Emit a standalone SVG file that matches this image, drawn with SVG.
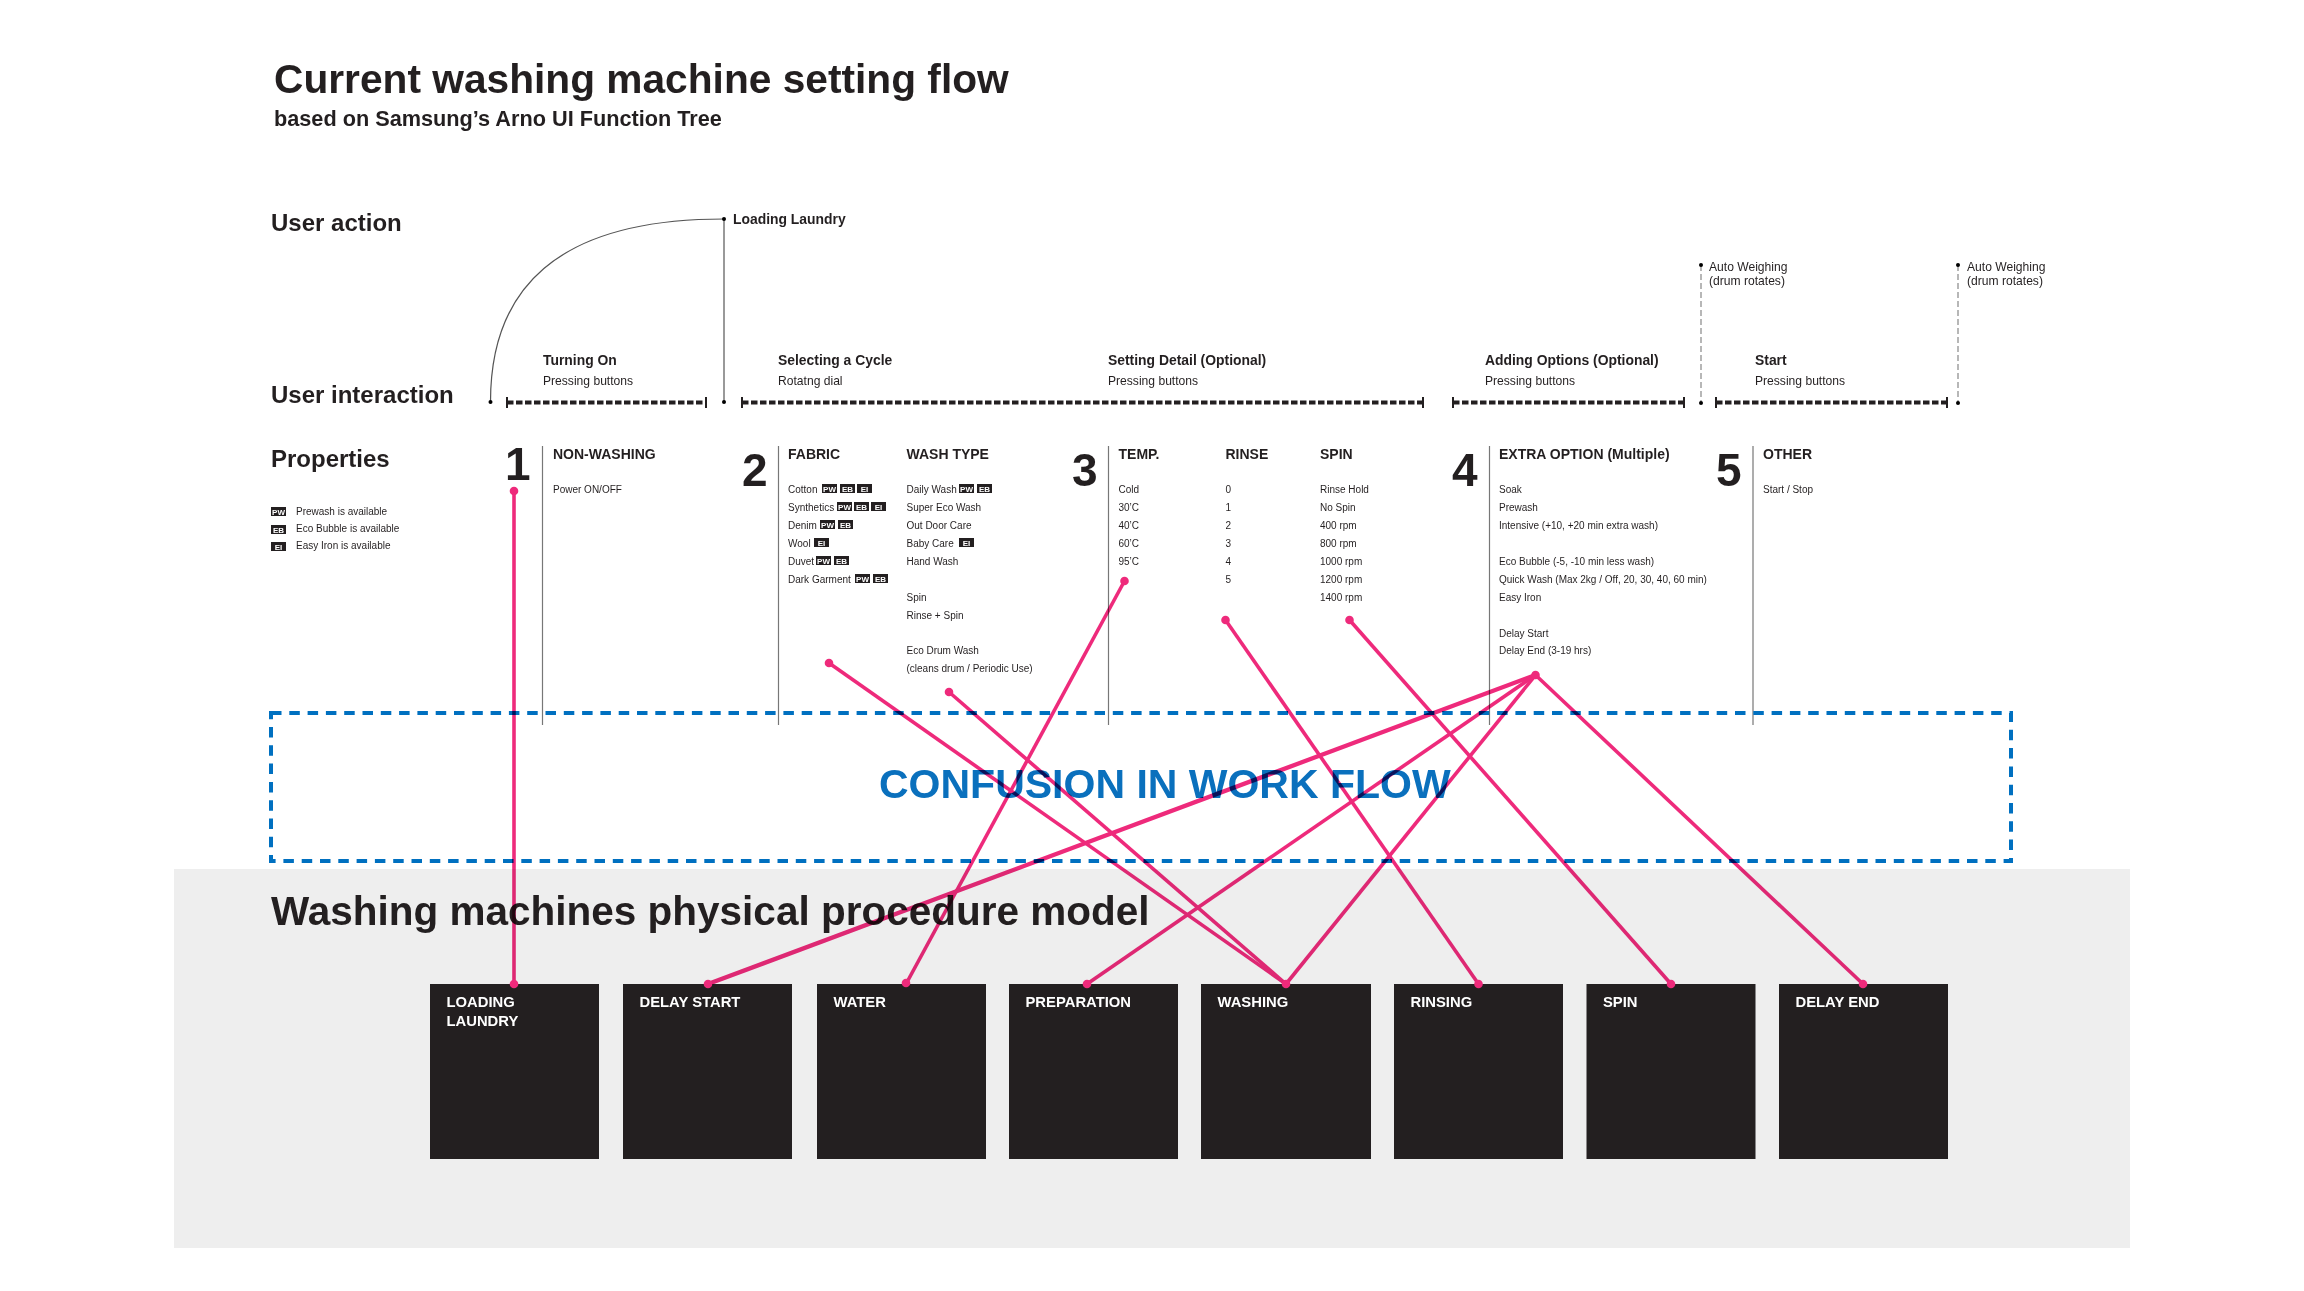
<svg xmlns="http://www.w3.org/2000/svg" width="2304" height="1291" viewBox="0 0 2304 1291">
<defs><style>
text{font-family:"Liberation Sans",Arial,sans-serif;fill:#231f20}
.b{font-weight:bold}
.t{font-size:40.7px;font-weight:bold}
.t2{font-size:40.5px;font-weight:bold}
.sub{font-size:21.7px;font-weight:bold}
.h{font-size:24px;font-weight:bold}
.il{font-size:13.9px;font-weight:bold}
.is{font-size:12.1px}
.ph{font-size:14px;font-weight:bold}
.r{font-size:10px}
.n{font-size:46px;font-weight:bold}
.bt{fill:#231f20}
.btx{font-size:8px;font-weight:bold;fill:#fff;text-anchor:middle}
.v{stroke:#777;stroke-width:1.2;fill:none}
.dash{stroke:#231f20;stroke-width:4;stroke-dasharray:6.500 2.500;fill:none}
.tick{stroke:#231f20;stroke-width:2;fill:none}
.thin{stroke:#555;stroke-width:1.2;fill:none}
.gd{stroke:#888;stroke-width:1.2;stroke-dasharray:6 3;fill:none}
.box{fill:#231f20}
.bl{font-size:14.8px;font-weight:bold;fill:#fff}
.pk{stroke:#ee2a7b;stroke-width:3.6;fill:none}
.pd{fill:#ee2a7b}
</style></defs>
<rect width="2304" height="1291" fill="#fff"/>
<rect id="procedure-bg" x="174" y="869" width="1956" height="379" fill="#eee"/>
<g id="titles">
<text class="t" x="274" y="93">Current washing machine setting flow</text>
<text class="sub" x="274" y="126">based on Samsung’s Arno UI Function Tree</text>
<text class="h" x="271" y="231">User action</text>
<text class="h" x="271" y="402.500">User interaction</text>
<text class="h" x="271" y="467">Properties</text>
<text class="t2" x="271" y="925">Washing machines physical procedure model</text>
</g>
<g id="action-lines">
<path class="thin" d="M490.500 402C490.500 290 555 219 724 219"/>
<path class="thin" d="M724 219V402"/>
<circle cx="490.500" cy="402" r="2"/><circle cx="724" cy="219" r="2"/><circle cx="724" cy="402" r="2"/>
<text class="il" x="733" y="224">Loading Laundry</text>
<path class="gd" d="M1701 265V403M1958 265V403"/>
<circle cx="1701" cy="265" r="2"/><circle cx="1701" cy="403" r="2"/><circle cx="1958" cy="265" r="2"/><circle cx="1958" cy="403" r="2"/>
<text class="is" x="1709" y="271">Auto Weighing</text><text class="is" x="1709" y="285">(drum rotates)</text>
<text class="is" x="1967" y="271">Auto Weighing</text><text class="is" x="1967" y="285">(drum rotates)</text>
</g>
<g id="interactions">
<path class="dash" d="M507 402.500H706M742 402.500H1423M1453 402.500H1684M1716 402.500H1947"/>
<path class="tick" d="M507 397V408M706 397V408M742 397V408M1423 397V408M1453 397V408M1684 397V408M1716 397V408M1947 397V408"/>
<text class="il" x="543" y="365">Turning On</text><text class="is" x="543" y="385">Pressing buttons</text>
<text class="il" x="778" y="365">Selecting a Cycle</text><text class="is" x="778" y="385">Rotatng dial</text>
<text class="il" x="1108" y="365">Setting Detail (Optional)</text><text class="is" x="1108" y="385">Pressing buttons</text>
<text class="il" x="1485" y="365">Adding Options (Optional)</text><text class="is" x="1485" y="385">Pressing buttons</text>
<text class="il" x="1755" y="365">Start</text><text class="is" x="1755" y="385">Pressing buttons</text>
</g>
<g id="legend">
<rect class="bt" x="271" y="507" width="15" height="9"/><text class="btx" x="278.500" y="514.500">PW</text><text class="r" x="296" y="515">Prewash is available</text>
<rect class="bt" x="271" y="525" width="15" height="9"/><text class="btx" x="278.500" y="532.500">EB</text><text class="r" x="296" y="532">Eco Bubble is available</text>
<rect class="bt" x="271" y="542" width="15" height="9"/><text class="btx" x="278.500" y="549.500">EI</text><text class="r" x="296" y="549">Easy Iron is available</text>
</g>
<g id="properties-1">
<text class="n" x="505" y="480">1</text>
<path class="v" d="M542.500 446V725"/>
<text class="ph" x="553" y="458.500">NON-WASHING</text>
<text class="r" x="553" y="493">Power  ON/OFF</text>
</g>
<g id="properties-2">
<text class="n" x="742" y="486">2</text>
<path class="v" d="M778.500 446V725"/>
<text class="ph" x="788" y="458.500">FABRIC</text>
<text class="r" x="788" y="493">Cotton</text>
<text class="r" x="788" y="511">Synthetics</text>
<text class="r" x="788" y="529">Denim</text>
<text class="r" x="788" y="547">Wool</text>
<text class="r" x="788" y="565">Duvet</text>
<text class="r" x="788" y="583">Dark Garment</text>
<g>
<rect class="bt" x="822" y="484" width="15" height="9"/><text class="btx" x="829.500" y="491.500">PW</text>
<rect class="bt" x="840" y="484" width="15" height="9"/><text class="btx" x="847.500" y="491.500">EB</text>
<rect class="bt" x="857" y="484" width="15" height="9"/><text class="btx" x="864.500" y="491.500">EI</text>
<rect class="bt" x="837" y="502" width="15" height="9"/><text class="btx" x="844.500" y="509.500">PW</text>
<rect class="bt" x="854" y="502" width="15" height="9"/><text class="btx" x="861.500" y="509.500">EB</text>
<rect class="bt" x="871" y="502" width="15" height="9"/><text class="btx" x="878.500" y="509.500">EI</text>
<rect class="bt" x="820" y="520" width="15" height="9"/><text class="btx" x="827.500" y="527.500">PW</text>
<rect class="bt" x="838" y="520" width="15" height="9"/><text class="btx" x="845.500" y="527.500">EB</text>
<rect class="bt" x="814" y="538" width="15" height="9"/><text class="btx" x="821.500" y="545.500">EI</text>
<rect class="bt" x="816" y="556" width="15" height="9"/><text class="btx" x="823.500" y="563.500">PW</text>
<rect class="bt" x="834" y="556" width="15" height="9"/><text class="btx" x="841.500" y="563.500">EB</text>
<rect class="bt" x="855" y="574" width="15" height="9"/><text class="btx" x="862.500" y="581.500">PW</text>
<rect class="bt" x="873" y="574" width="15" height="9"/><text class="btx" x="880.500" y="581.500">EB</text>
</g>
<text class="ph" x="906.500" y="458.500">WASH TYPE</text>
<text class="r" x="906.500" y="493">Daily Wash</text>
<text class="r" x="906.500" y="511">Super Eco Wash</text>
<text class="r" x="906.500" y="529">Out Door Care</text>
<text class="r" x="906.500" y="547">Baby Care</text>
<text class="r" x="906.500" y="565">Hand Wash</text>
<text class="r" x="906.500" y="601">Spin</text>
<text class="r" x="906.500" y="619">Rinse + Spin</text>
<text class="r" x="906.500" y="654">Eco Drum Wash</text>
<text class="r" x="906.500" y="672">(cleans drum / Periodic Use)</text>
<rect class="bt" x="959" y="484" width="15" height="9"/><text class="btx" x="966.500" y="491.500">PW</text>
<rect class="bt" x="977" y="484" width="15" height="9"/><text class="btx" x="984.500" y="491.500">EB</text>
<rect class="bt" x="959" y="538" width="15" height="9"/><text class="btx" x="966.500" y="545.500">EI</text>
</g>
<g id="properties-3">
<text class="n" x="1072" y="486">3</text>
<path class="v" d="M1108.500 446V725"/>
<text class="ph" x="1118.500" y="458.500">TEMP.</text>
<text class="r" x="1118.500" y="493">Cold</text>
<text class="r" x="1118.500" y="511">30’C</text>
<text class="r" x="1118.500" y="529">40’C</text>
<text class="r" x="1118.500" y="547">60’C</text>
<text class="r" x="1118.500" y="565">95’C</text>
<text class="ph" x="1225.500" y="458.500">RINSE</text>
<text class="r" x="1225.500" y="493">0</text>
<text class="r" x="1225.500" y="511">1</text>
<text class="r" x="1225.500" y="529">2</text>
<text class="r" x="1225.500" y="547">3</text>
<text class="r" x="1225.500" y="565">4</text>
<text class="r" x="1225.500" y="583">5</text>
<text class="ph" x="1320" y="458.500">SPIN</text>
<text class="r" x="1320" y="493">Rinse Hold</text>
<text class="r" x="1320" y="511">No Spin</text>
<text class="r" x="1320" y="529">400 rpm</text>
<text class="r" x="1320" y="547">800 rpm</text>
<text class="r" x="1320" y="565">1000 rpm</text>
<text class="r" x="1320" y="583">1200 rpm</text>
<text class="r" x="1320" y="601">1400 rpm</text>
</g>
<g id="properties-4">
<text class="n" x="1452" y="486">4</text>
<path class="v" d="M1489.500 446V725"/>
<text class="ph" x="1499" y="458.500">EXTRA OPTION (Multiple)</text>
<text class="r" x="1499" y="493">Soak</text>
<text class="r" x="1499" y="511">Prewash</text>
<text class="r" x="1499" y="529">Intensive (+10, +20 min extra wash)</text>
<text class="r" x="1499" y="565">Eco Bubble (-5, -10 min less wash)</text>
<text class="r" x="1499" y="583">Quick Wash (Max 2kg / Off, 20, 30, 40, 60 min)</text>
<text class="r" x="1499" y="601">Easy Iron</text>
<text class="r" x="1499" y="637">Delay Start</text>
<text class="r" x="1499" y="654">Delay End (3-19 hrs)</text>
</g>
<g id="properties-5">
<text class="n" x="1716" y="486">5</text>
<path class="v" style="stroke:#999;stroke-width:1.6" d="M1753 446V725"/>
<text class="ph" x="1763" y="458.500">OTHER</text>
<text class="r" x="1763" y="493">Start / Stop</text>
</g>
<g id="confusion">
<rect x="271" y="713" width="1740" height="148" fill="none" stroke="#0070c0" stroke-width="4" stroke-dasharray="10.500 7.800"/>
<text x="879" y="798" font-size="41" class="b" style="fill:#0a70bd">CONFUSION IN WORK FLOW</text>
</g>
<g id="node-loading"><rect class="box" x="430" y="984" width="169" height="175"/><text class="bl" x="446.500" y="1007">LOADING</text><text class="bl" x="446.500" y="1026">LAUNDRY</text></g>
<g id="node-delay-start"><rect class="box" x="623" y="984" width="169" height="175"/><text class="bl" x="639.500" y="1007">DELAY START</text></g>
<g id="node-water"><rect class="box" x="817" y="984" width="169" height="175"/><text class="bl" x="833.500" y="1007">WATER</text></g>
<g id="node-preparation"><rect class="box" x="1009" y="984" width="169" height="175"/><text class="bl" x="1025.500" y="1007">PREPARATION</text></g>
<g id="node-washing"><rect class="box" x="1201" y="984" width="170" height="175"/><text class="bl" x="1217.500" y="1007">WASHING</text></g>
<g id="node-rinsing"><rect class="box" x="1394" y="984" width="169" height="175"/><text class="bl" x="1410.500" y="1007">RINSING</text></g>
<g id="node-spin"><rect class="box" x="1586.500" y="984" width="169" height="175"/><text class="bl" x="1603" y="1007">SPIN</text></g>
<g id="node-delay-end"><rect class="box" x="1779" y="984" width="169" height="175"/><text class="bl" x="1795.500" y="1007">DELAY END</text></g>
<g id="connectors">
<g style="mix-blend-mode:multiply">
<path class="pk" d="M514 491V984"/>
<path class="pk" d="M829 663L1286 984"/>
<path class="pk" d="M949 692L1286 984"/>
<path class="pk" d="M1124.500 581L906 984"/>
<path class="pk" d="M1225.500 620L1478.500 984"/>
<path class="pk" d="M1349.500 620L1671 984"/>
<path class="pk" style="stroke-width:4.300" d="M1535.500 675L708 984"/>
<path class="pk" d="M1535.500 675L1087 984"/>
<path class="pk" d="M1535.500 675L1286 984"/>
<path class="pk" d="M1535.500 675L1863 984"/>
</g>
<g class="pd">
<circle cx="514" cy="491" r="4.300"/><circle cx="829" cy="663" r="4.300"/><circle cx="949" cy="692" r="4.300"/><circle cx="1124.500" cy="581" r="4.300"/><circle cx="1225.500" cy="620" r="4.300"/><circle cx="1349.500" cy="620" r="4.300"/><circle cx="1535.500" cy="675" r="4.300"/>
<circle cx="514" cy="984" r="4.300"/><circle cx="708" cy="984" r="4.300"/><circle cx="906" cy="983" r="4.300"/><circle cx="1087" cy="984" r="4.300"/><circle cx="1286" cy="984" r="4.300"/><circle cx="1478.500" cy="984" r="4.300"/><circle cx="1671" cy="984" r="4.300"/><circle cx="1863" cy="984" r="4.300"/>
</g>
</g>
</svg>
